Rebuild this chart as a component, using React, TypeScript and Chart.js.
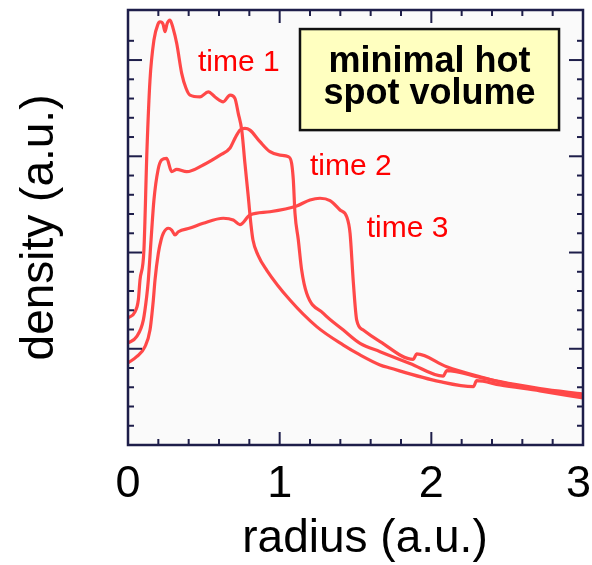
import React, { useEffect, useRef } from 'react';
import { Chart, registerables } from 'chart.js';
Chart.register(...registerables);

// ---- data ----
const time1X = [0, 0.046, 0.068, 0.079, 0.105, 0.125, 0.145, 0.171, 0.198, 0.211, 0.231, 0.244, 0.257, 0.277, 0.297, 0.321, 0.354, 0.382, 0.409, 0.475, 0.529, 0.574, 0.628, 0.673, 0.705, 0.727, 0.75, 0.771, 0.793, 0.811, 0.824, 0.857, 0.914, 1.068, 1.244, 1.42, 1.53, 1.662, 1.727, 2.057, 2.277, 2.299, 2.453, 2.716, 3.0];
const time1Y = [6.6, 6.92, 7.53, 8.57, 10.13, 15.32, 18.96, 21.04, 21.87, 21.99, 21.87, 21.47, 21.87, 22.08, 21.66, 20.87, 19.31, 18.55, 18.18, 18.09, 18.35, 18.08, 17.83, 18.18, 18.01, 17.23, 16.36, 14.63, 12.9, 11.43, 10.65, 9.87, 9.09, 7.53, 6.15, 5.19, 4.68, 4.16, 4.0, 3.29, 3.03, 3.34, 3.12, 2.81, 2.44];

const time2X = [0, 0.057, 0.101, 0.123, 0.134, 0.152, 0.171, 0.198, 0.222, 0.255, 0.288, 0.321, 0.387, 0.496, 0.607, 0.673, 0.705, 0.738, 0.771, 0.804, 0.87, 0.936, 1.002, 1.057, 1.079, 1.09, 1.101, 1.123, 1.145, 1.178, 1.288, 1.42, 1.53, 1.662, 1.859, 2.079, 2.101, 2.321, 2.585, 3.0];
const time2Y = [5.3, 5.63, 6.49, 7.7, 8.57, 10.65, 12.73, 14.29, 14.81, 14.89, 14.2, 14.32, 14.2, 14.55, 15.06, 15.43, 15.93, 16.36, 16.45, 16.36, 15.76, 15.24, 15.06, 14.98, 14.63, 13.77, 12.04, 10.65, 9.09, 7.88, 6.84, 5.97, 5.28, 4.85, 4.24, 3.58, 3.86, 3.51, 3.06, 2.55];

const time3X = [0, 0.057, 0.112, 0.145, 0.167, 0.178, 0.2, 0.218, 0.233, 0.266, 0.288, 0.31, 0.332, 0.409, 0.496, 0.628, 0.694, 0.738, 0.804, 0.936, 1.112, 1.2, 1.266, 1.332, 1.398, 1.442, 1.464, 1.486, 1.508, 1.551, 1.662, 1.881, 1.903, 2.101, 2.321, 2.453, 2.716, 3.0];
const time3Y = [4.26, 4.59, 5.11, 5.97, 7.53, 8.57, 9.96, 10.65, 11.0, 11.26, 11.17, 10.91, 11.08, 11.27, 11.52, 11.78, 11.69, 11.45, 11.95, 12.12, 12.42, 12.73, 12.82, 12.7, 12.21, 11.86, 11.01, 8.42, 6.49, 5.97, 5.37, 4.45, 4.73, 4.07, 3.55, 3.29, 2.93, 2.65];

const seriesLabels = ['time 1', 'time 2', 'time 3'];
const seriesLabelAnchorsX = [0.4615, 1.2, 1.574];
const seriesLabelAnchorsY = [19.44, 14.03, 10.82];
const xTickLabels = ['0', '1', '2', '3'];
const noteLines = ['minimal hot', 'spot volume'];
const noteBoxX = [1.134, 2.842];
const noteBoxY = [21.61, 16.36];
const noteTextX = 1.988;
const noteTextY = [19.38, 17.71];
const xTitle = 'radius (a.u.)';
const yTitle = 'density (a.u.)';
const xTitleCenter = 1.5626; // in radius units

const FONT = "'Liberation Sans', Arial, Helvetica, sans-serif";
const LINE_COLOR = '#ff4848';
const AXIS_COLOR = '#1e1e4a';

function toPoints(xs: number[], ys: number[]) {
  return xs.map((x, i) => ({ x, y: ys[i] }));
}

const decorPlugin = {
  id: 'decor',
  beforeDraw(chart: any) {
    const { ctx, chartArea: a } = chart;
    ctx.save();
    ctx.fillStyle = '#ffffff';
    ctx.fillRect(0, 0, chart.width, chart.height);
    ctx.fillStyle = '#fafafa';
    ctx.fillRect(a.left, a.top, a.right - a.left, a.bottom - a.top);
    ctx.restore();
  },
  afterDatasetsDraw(chart: any) {
    const { ctx, chartArea: a } = chart;
    const xs = chart.scales.x;
    const ys = chart.scales.y;
    ctx.save();
    ctx.strokeStyle = AXIS_COLOR;
    ctx.lineWidth = 2;
    const line = (x1: number, y1: number, x2: number, y2: number) => {
      ctx.beginPath();
      ctx.moveTo(x1, y1);
      ctx.lineTo(x2, y2);
      ctx.stroke();
    };
    ctx.fillStyle = '#000000';
    ctx.font = `45px ${FONT}`;
    ctx.textBaseline = 'top';
    ctx.textAlign = 'left';
    xs.ticks.forEach((t: any) => {
      const v = t.value;
      const k = Math.round(v * 5);
      if (Math.abs(v * 5 - k) > 1e-6) return;
      const major = k % 5 === 0;
      const len = major ? 13 : 6;
      const px = xs.getPixelForValue(v);
      line(px, a.bottom, px, a.bottom - len);
      line(px, a.top, px, a.top + len);
      if (major) {
        const s = xTickLabels[k / 5];
        const w = ctx.measureText(s).width;
        let left = px - w / 2;
        if (left + w > chart.width - 1) left = chart.width - 1 - w;
        ctx.fillText(s, left, a.bottom + 17);
      }
    });
    ys.ticks.forEach((t: any) => {
      const v = t.value;
      const k = Math.round(v);
      if (Math.abs(v - k) > 1e-6) return;
      const len = k % 5 === 0 ? 14 : 6;
      const py = ys.getPixelForValue(v);
      line(a.left, py, a.left + len, py);
      line(a.right, py, a.right - len, py);
    });
    ctx.lineWidth = 2.5;
    ctx.strokeRect(a.left, a.top, a.right - a.left, a.bottom - a.top);

    // x axis title
    ctx.font = `46px ${FONT}`;
    ctx.textAlign = 'center';
    ctx.textBaseline = 'alphabetic';
    ctx.fillText(xTitle, xs.getPixelForValue(xTitleCenter), chart.height - 13);

    // series labels
    ctx.fillStyle = '#ff0000';
    ctx.font = `30px ${FONT}`;
    ctx.textAlign = 'left';
    seriesLabels.forEach((s, i) => {
      ctx.fillText(s, xs.getPixelForValue(seriesLabelAnchorsX[i]), ys.getPixelForValue(seriesLabelAnchorsY[i]));
    });

    // note box
    const bx1 = xs.getPixelForValue(noteBoxX[0]);
    const bx2 = xs.getPixelForValue(noteBoxX[1]);
    const by1 = ys.getPixelForValue(noteBoxY[0]);
    const by2 = ys.getPixelForValue(noteBoxY[1]);
    ctx.fillStyle = '#ffffc0';
    ctx.fillRect(bx1, by1, bx2 - bx1, by2 - by1);
    ctx.strokeStyle = '#111111';
    ctx.lineWidth = 2.5;
    ctx.strokeRect(bx1, by1, bx2 - bx1, by2 - by1);
    ctx.fillStyle = '#000000';
    ctx.font = `bold 36px ${FONT}`;
    ctx.textAlign = 'center';
    noteLines.forEach((s, i) => {
      ctx.fillText(s, xs.getPixelForValue(noteTextX), ys.getPixelForValue(noteTextY[i]));
    });
    ctx.restore();
  },
};

export default function App() {
  const ref = useRef<HTMLCanvasElement | null>(null);
  useEffect(() => {
    if (!ref.current) return;
    const mk = (label: string, xs: number[], ys: number[]) => ({
      label,
      data: toPoints(xs, ys),
      borderColor: LINE_COLOR,
      borderWidth: 3.2,
      pointRadius: 0,
      fill: false,
      cubicInterpolationMode: 'monotone' as const,
    });
    const chart = new Chart(ref.current, {
      type: 'line',
      data: {
        datasets: [
          mk(seriesLabels[0], time1X, time1Y),
          mk(seriesLabels[1], time2X, time2Y),
          mk(seriesLabels[2], time3X, time3Y),
        ],
      },
      options: {
        animation: false,
        responsive: false,
        events: [],
        layout: { padding: { top: 10, right: 9, left: 0, bottom: 0 } },
        plugins: { legend: { display: false }, tooltip: { enabled: false } },
        scales: {
          x: {
            type: 'linear',
            min: 0,
            max: 3,
            grid: { display: false, drawTicks: false },
            border: { display: false },
            ticks: { display: false, stepSize: 0.2, autoSkip: false },
            title: { display: false, text: xTitle },
            afterFit: (s: any) => {
              s.height = 120;
              s.paddingLeft = 0;
              s.paddingRight = 0;
            },
          },
          y: {
            type: 'linear',
            min: 0,
            max: 22.6,
            grid: { display: false, drawTicks: false },
            border: { display: false },
            ticks: { display: false, stepSize: 1 },
            title: {
              display: true,
              text: yTitle,
              color: '#000000',
              font: { family: FONT, size: 46 },
              padding: { top: 13, bottom: 0 },
            },
            afterFit: (s: any) => {
              s.width = 128;
              s.paddingTop = 0;
              s.paddingBottom = 0;
            },
          },
        },
      },
      plugins: [decorPlugin],
    });
    return () => chart.destroy();
  }, []);
  return (
    <div style={{ position: 'fixed', left: 0, top: 0, width: 592, height: 565 }}>
      <canvas ref={ref} width={592} height={565} />
    </div>
  );
}
